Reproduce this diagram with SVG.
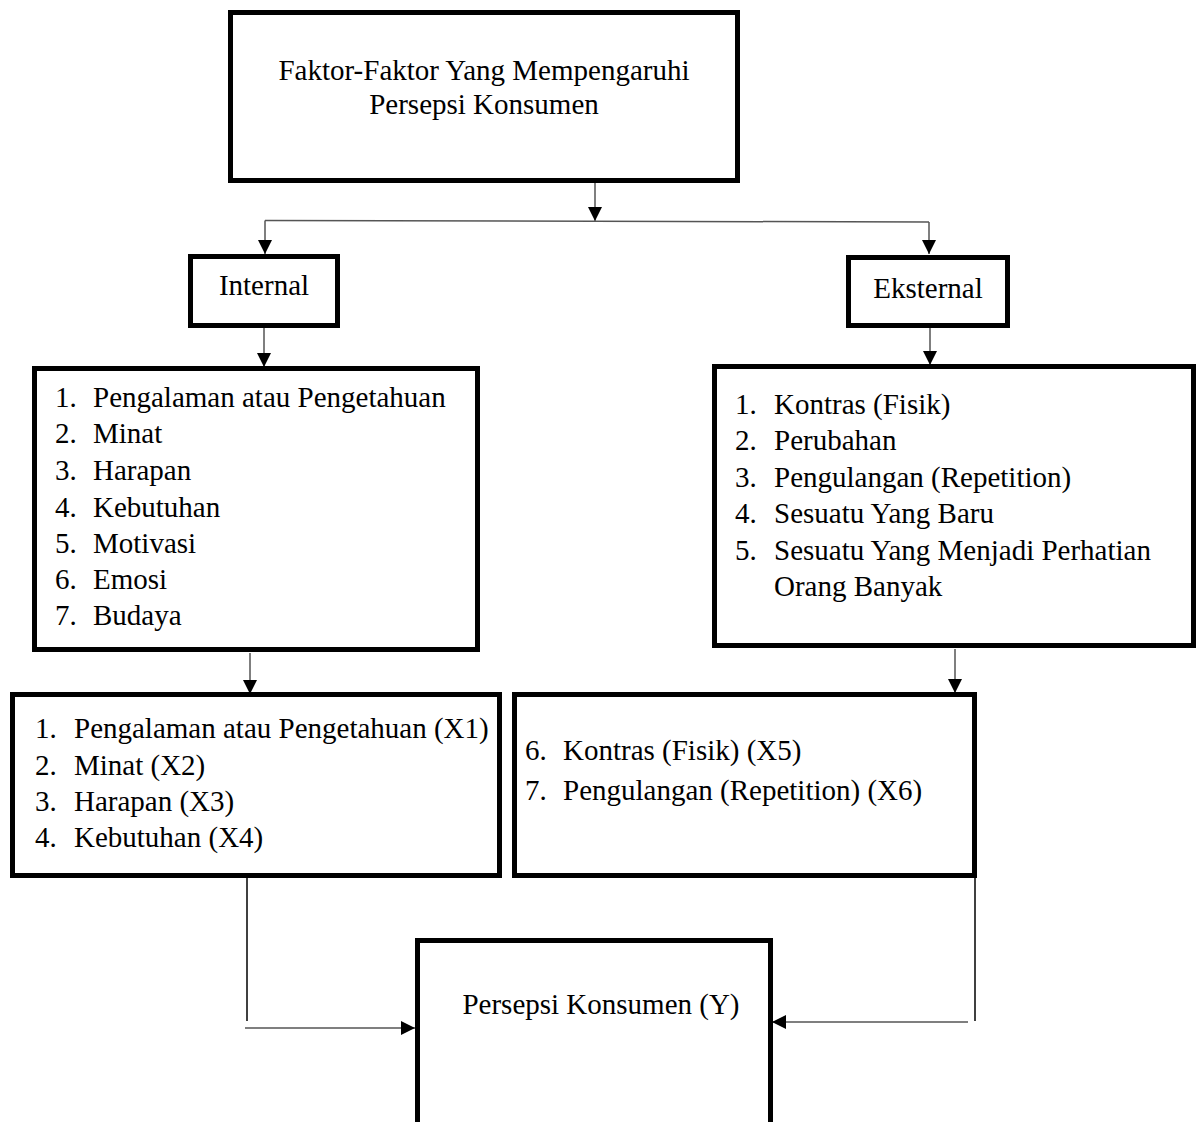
<svg xmlns="http://www.w3.org/2000/svg" width="1202" height="1122" viewBox="0 0 1202 1122">
<style>
.box{fill:#fff;stroke:#000;stroke-width:5}
.t{font-family:"Liberation Serif","Times New Roman",serif;font-size:29px;fill:#000}
.c{text-anchor:middle}
.ln{fill:none;stroke:#555;stroke-width:1.5}
.lk{fill:none;stroke:#000;stroke-width:1.5}
</style>
<defs>
<marker id="ah" markerUnits="userSpaceOnUse" markerWidth="14" markerHeight="16" viewBox="0 0 14 16" refX="14" refY="7" orient="auto">
<path d="M0,0 L14,7 L0,14 Z" fill="#000"/>
</marker>
</defs>
<rect width="1202" height="1122" fill="#fff"/>

<g id="connectors">
<path class="ln" d="M595,183 V221" marker-end="url(#ah)"/>
<path class="ln" d="M265,220.5 L929,222"/>
<path class="ln" d="M265,220.5 V254" marker-end="url(#ah)"/>
<path class="ln" d="M929,222 V254" marker-end="url(#ah)"/>
<path class="ln" d="M264,328 V367" marker-end="url(#ah)"/>
<path class="ln" d="M930,328 V365" marker-end="url(#ah)"/>
<path class="ln" d="M250,653 V694" marker-end="url(#ah)"/>
<path class="ln" d="M955,649 V693" marker-end="url(#ah)"/>
<path class="lk" d="M247,878 V1021"/>
<path class="ln" d="M245,1028 H415" marker-end="url(#ah)"/>
<path class="lk" d="M975,878 V1021"/>
<path class="ln" d="M968,1022 H772" marker-end="url(#ah)"/>
</g>

<g id="node-top">
<rect class="box" x="230.5" y="12.5" width="507" height="168"/>
<text class="t c" x="484" y="80">Faktor-Faktor Yang Mempengaruhi</text>
<text class="t c" x="484" y="114">Persepsi Konsumen</text>
</g>

<g id="node-internal">
<rect class="box" x="190.5" y="256.5" width="147" height="69"/>
<text class="t c" x="264" y="295">Internal</text>
</g>

<g id="node-eksternal">
<rect class="box" x="848.5" y="257.5" width="159" height="68"/>
<text class="t c" x="928" y="298">Eksternal</text>
</g>

<g id="node-internal-list">
<rect class="box" x="34.5" y="368.5" width="443" height="281"/>
<text class="t" x="55" y="407">1.</text><text class="t" x="93" y="407">Pengalaman atau Pengetahuan</text>
<text class="t" x="55" y="443">2.</text><text class="t" x="93" y="443">Minat</text>
<text class="t" x="55" y="480">3.</text><text class="t" x="93" y="480">Harapan</text>
<text class="t" x="55" y="517">4.</text><text class="t" x="93" y="517">Kebutuhan</text>
<text class="t" x="55" y="553">5.</text><text class="t" x="93" y="553">Motivasi</text>
<text class="t" x="55" y="589">6.</text><text class="t" x="93" y="589">Emosi</text>
<text class="t" x="55" y="625">7.</text><text class="t" x="93" y="625">Budaya</text>
</g>

<g id="node-eksternal-list">
<rect class="box" x="714.5" y="366.5" width="479" height="279"/>
<text class="t" x="735" y="414">1.</text><text class="t" x="774" y="414">Kontras (Fisik)</text>
<text class="t" x="735" y="450">2.</text><text class="t" x="774" y="450">Perubahan</text>
<text class="t" x="735" y="487">3.</text><text class="t" x="774" y="487">Pengulangan (Repetition)</text>
<text class="t" x="735" y="523">4.</text><text class="t" x="774" y="523">Sesuatu Yang Baru</text>
<text class="t" x="735" y="560">5.</text><text class="t" x="774" y="560">Sesuatu Yang Menjadi Perhatian</text>
<text class="t" x="774" y="596">Orang Banyak</text>
</g>

<g id="node-x-internal">
<rect class="box" x="12.5" y="694.5" width="487" height="181"/>
<text class="t" x="35" y="738">1.</text><text class="t" x="74" y="738">Pengalaman atau Pengetahuan (X1)</text>
<text class="t" x="35" y="775">2.</text><text class="t" x="74" y="775">Minat (X2)</text>
<text class="t" x="35" y="811">3.</text><text class="t" x="74" y="811">Harapan (X3)</text>
<text class="t" x="35" y="847">4.</text><text class="t" x="74" y="847">Kebutuhan (X4)</text>
</g>

<g id="node-x-eksternal">
<rect class="box" x="514.5" y="694.5" width="460" height="181"/>
<text class="t" x="525" y="760">6.</text><text class="t" x="563" y="760">Kontras (Fisik) (X5)</text>
<text class="t" x="525" y="800">7.</text><text class="t" x="563" y="800">Pengulangan (Repetition) (X6)</text>
</g>

<g id="node-y">
<path d="M417.5,1124 V940.5 H770.5 V1124" fill="#fff" stroke="#000" stroke-width="5"/>
<text class="t c" x="601" y="1014">Persepsi Konsumen (Y)</text>
</g>
</svg>
